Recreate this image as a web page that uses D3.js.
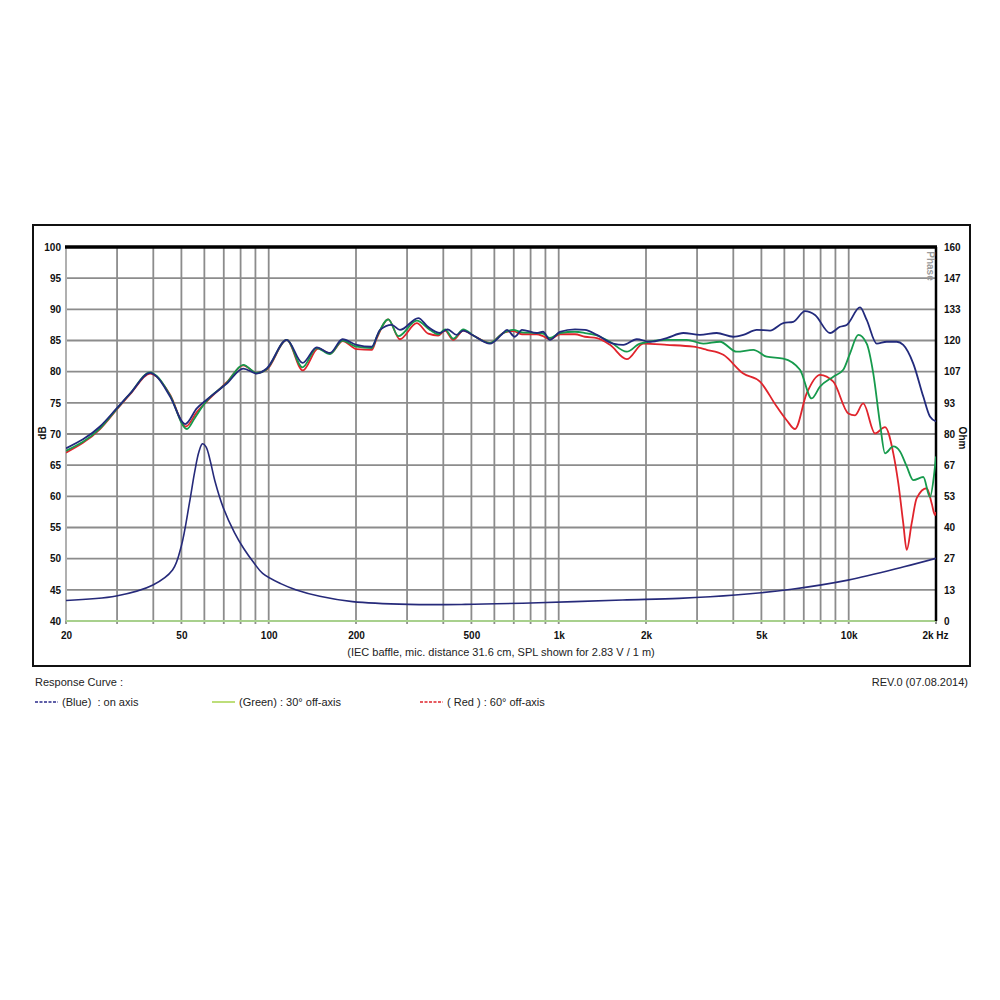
<!DOCTYPE html>
<html><head><meta charset="utf-8">
<script src="https://cdn.jsdelivr.net/npm/d3@7"></script>
<style>
html,body{margin:0;padding:0;background:#fff;}
svg{display:block;}
.tk{font-family:'Liberation Sans Narrow','Arial Narrow','Liberation Sans',Arial,sans-serif;font-weight:bold;font-size:10px;fill:#111;}
.tx{font-family:'Liberation Sans',Arial,sans-serif;font-size:11px;fill:#222;}
</style></head>
<body>
<svg id="c" width="1000" height="1000"></svg>
<script>
// ---- data ----
const blueFreq = [20,26.2,29.9,33.3,39,41.1,45.7,51.5,56.5,61.1,71.7,81.7,90.9,98.4,115.4,130.8,146.4,162.6,179.6,201,226.6,242,265.6,283.6,328,354,390,413.6,444.8,468.8,507.6,579.4,637.4,663.4,706,747,840,883,933,1010,1138,1232,1355,1542,1670,1858,2064,2358,2690,3070,3506,4000,4330,4818,5354,5948,6440,7068,7652,8620,9334,9840,10940,11536,12490,13520,14640,15420,16700,18080,19060,20000];
const blueDb = [67.7,71.2,74.1,76.5,79.8,79.2,76.0,71.6,74.1,75.5,78.1,80.5,79.7,80.5,85.1,81.4,83.9,83.0,85.2,84.3,84.0,86.7,87.5,86.7,88.6,87.2,86.2,86.8,85.9,86.6,85.8,84.5,86.0,86.7,85.6,86.7,86.2,86.4,85.1,86.4,86.8,86.7,85.9,84.5,84.3,85.2,84.8,85.4,86.2,85.9,86.2,85.6,85.9,86.7,86.6,87.8,88.0,89.7,89.1,86.2,87.2,87.5,90.3,88.3,84.5,84.8,84.8,84.3,81.3,76.0,72.8,72.0];

const greenFreq = [20,26.2,29.9,33.3,39,41.1,45.7,52.2,55.5,59.5,61.1,71.7,81.7,90.9,98.4,115.4,130.8,146.4,162.6,179.6,201,226.6,236,258.5,280,324,360,384,405.6,433,468.8,507.6,579.4,644,697,747,840,883,933,1010,1138,1232,1355,1503,1716,1906,2358,2762,3152,3598,4110,4688,5214,5948,6792,7454,7962,8852,9576,10100,10792,11536,12158,12820,13340,14250,15030,15850,16700,18080,19060,19700,20000];
const greenDb = [67.3,70.9,74.0,76.5,79.9,79.3,76.2,70.8,72.5,74.6,75.3,78.2,81.1,79.8,80.4,85.1,80.7,83.8,82.8,85.0,84.0,83.8,85.6,88.4,85.7,88.2,86.7,86.0,86.8,85.3,86.8,85.8,84.6,86.2,86.7,86.3,86.2,86.1,85.4,86.2,86.4,86.2,85.8,84.8,83.2,84.5,85.1,85.1,84.5,84.8,83.2,83.5,82.4,82.1,80.3,75.7,77.6,79.2,80.3,82.9,85.9,84.5,79.7,71.7,66.9,68.0,67.2,64.8,62.6,63.1,59.9,63.5,66.4];

const redFreq = [20,26.2,29.9,33.3,39,41.1,45.7,51.8,56.5,61.1,71.7,81.7,90.9,98.4,115.4,131,148,163,180,201,226.6,236,258.5,283,324,355,384,405.6,433,468.8,507.6,579.4,644,697,747,840,883,933,1010,1138,1232,1355,1503,1716,1958,2358,2912,3238,3696,4330,4944,5646,6112,6530,7162,7962,8852,9970,10514,11220,12330,13340,14250,14826,15420,15850,16490,17160,18578,19320,19843,20000];
const redDb = [67.0,70.8,73.9,76.4,79.7,79.2,76.3,71.2,73.5,75.2,78.3,81.0,79.8,80.3,85.1,80.2,83.7,82.9,84.9,83.6,83.5,85.4,88.4,85.2,87.8,86.1,85.8,86.6,85.1,86.6,85.8,84.6,86.2,86.5,86.0,86.0,85.7,85.2,86.0,86.0,85.6,85.4,84.3,82.0,84.5,84.3,84.0,83.5,82.7,79.7,78.4,74.4,72.2,70.8,76.5,79.5,78.4,73.3,73.0,74.9,70.1,71.1,66.9,62.1,55.7,51.4,55.7,59.7,61.3,58.9,57.0,57.5];

const impFreq = [20,29.8,39.9,46.6,49.9,53.3,55.5,57.5,59.1,60.8,63,65.2,69.7,76.2,82,89,95.3,110,124.6,150,194.6,304,476,850,1662,2600,4060,6360,9940,15500,20000];
const impOhm = [8.8,10.7,15.4,21.8,31.8,50.5,63.5,72.5,75.8,74.5,68.0,60.0,48.5,37.8,31.0,24.8,20.4,16.0,13.3,10.6,8.3,7.1,7.1,7.8,9.0,9.7,11.1,13.6,17.5,23.2,26.8];

const dbTicks = [40,45,50,55,60,65,70,75,80,85,90,95,100];
const ohmTickLabels = ["0","13","27","40","53","67","80","93","107","120","133","147","160"];
const freqTickVals = [20,50,100,200,500,1000,2000,5000,10000,20000];
const freqTickLabels = ["20","50","100","200","500","1k","2k","5k","10k","2k Hz"];

// ---- layout ----
const L=66,R=936,T=247,B=621;
const svg=d3.select("#c");
const x=d3.scaleLog().domain([20,20000]).range([L,R]);
const y=d3.scaleLinear().domain([40,100]).range([B,T]);
const yO=d3.scaleLinear().domain([0,160]).range([B,T]);

// outer frame
svg.append("rect").attr("x",33).attr("y",225).attr("width",937).attr("height",441)
  .attr("fill","#fff").attr("stroke","#111").attr("stroke-width",2);

// grid
const gridF=[];
[10,100,1000,10000].forEach(d=>{for(let k=1;k<10;k++){const f=d*k; if(f>=20&&f<=20000) gridF.push(f);}});
gridF.push(20000);
const g=svg.append("g");
g.selectAll(".vg").data(gridF).join("line")
  .attr("x1",d=>x(d)).attr("x2",d=>x(d)).attr("y1",T).attr("y2",B+3)
  .attr("stroke","#8c8c8c").attr("stroke-width",1.8);
g.selectAll(".hg").data(dbTicks).join("line")
  .attr("x1",L).attr("x2",R).attr("y1",d=>y(d)).attr("y2",d=>y(d))
  .attr("stroke","#8c8c8c").attr("stroke-width",1.8);
// borders
g.append("line").attr("x1",L).attr("x2",L).attr("y1",T).attr("y2",B).attr("stroke","#b0b0b0").attr("stroke-width",2);
g.append("line").attr("x1",L).attr("x2",R).attr("y1",B).attr("y2",B).attr("stroke","#a8d08d").attr("stroke-width",2);
g.append("line").attr("x1",L-1).attr("x2",R+1).attr("y1",T).attr("y2",T).attr("stroke","#000").attr("stroke-width",3.5);
g.append("line").attr("x1",R).attr("x2",R).attr("y1",T).attr("y2",B).attr("stroke","#000").attr("stroke-width",2.5);

// axes labels
const axL=d3.axisLeft(y).tickValues(dbTicks).tickSize(0).tickPadding(5).tickFormat(d3.format("d"));
const aL=svg.append("g").attr("transform",`translate(${L},0)`).call(axL);
const axR=d3.axisRight(yO).tickValues(d3.range(13).map(i=>i*160/12)).tickSize(0).tickPadding(8).tickFormat((d,i)=>ohmTickLabels[i]);
const aR=svg.append("g").attr("transform",`translate(${R},0)`).call(axR);
const axB=d3.axisBottom(x).tickValues(freqTickVals).tickSize(0).tickPadding(11).tickFormat((d,i)=>freqTickLabels[i]);
const aB=svg.append("g").attr("transform",`translate(0,${B})`).call(axB);
[aL,aR,aB].forEach(a=>{a.select(".domain").remove(); a.selectAll("text").attr("class","tk").attr("fill","#111");});
aB.selectAll("text").filter((d,i)=>i===freqTickLabels.length-1).attr("text-anchor","end").attr("dx","12");

svg.append("text").attr("class","tk").attr("font-size","11px").attr("transform","translate(46,433) rotate(-90)").attr("text-anchor","middle").text("dB");
svg.append("text").attr("class","tk").attr("font-size","11px").attr("transform","translate(959,438) rotate(90)").attr("text-anchor","middle").text("Ohm");
svg.append("text").attr("class","tk").style("fill","#9a9a9a").attr("font-weight","normal").attr("font-size","11px").attr("transform","translate(927,266) rotate(90)").attr("text-anchor","middle").text("Phase");

// curves
svg.append("clipPath").attr("id","pc").append("rect").attr("x",L).attr("y",T).attr("width",R-L).attr("height",B-T);
const cg=svg.append("g").attr("clip-path","url(#pc)");
function draw(fr,vals,scale,color,w,curve){
  const ln=d3.line().x(d=>x(d[0])).y(d=>scale(d[1])).curve(curve);
  cg.append("path").datum(fr.map((f,i)=>[f,vals[i]])).attr("d",ln)
    .attr("fill","none").attr("stroke",color).attr("stroke-width",w).attr("stroke-linejoin","round");
}
draw(impFreq,impOhm,yO,"#262a7a",1.6,d3.curveCatmullRom.alpha(0.5));
draw(redFreq,redDb,y,"#e0242c",1.8,d3.curveMonotoneX);
draw(greenFreq,greenDb,y,"#169a4c",1.8,d3.curveMonotoneX);
draw(blueFreq,blueDb,y,"#222a7c",1.8,d3.curveMonotoneX);

// caption and legend
svg.append("text").attr("class","tx").attr("x",501).attr("y",656).attr("text-anchor","middle")
  .text("(IEC baffle, mic. distance 31.6 cm, SPL shown for 2.83 V / 1 m)");
svg.append("text").attr("class","tx").attr("x",35).attr("y",686).text("Response Curve :");
svg.append("text").attr("class","tx").attr("x",968).attr("y",686).attr("text-anchor","end").attr("font-size","10px").text("REV.0 (07.08.2014)");
const leg=[
  {x:35,color:"#2a2a8a",dash:"3,1.5",label:"(Blue)  : on axis"},
  {x:212,color:"#9acd32",dash:null,label:"(Green) : 30° off-axis"},
  {x:420,color:"#e0242c",dash:"3,1.5",label:"( Red ) : 60° off-axis"}
];
leg.forEach(l=>{
  const ln=svg.append("line").attr("x1",l.x).attr("x2",l.x+23).attr("y1",702).attr("y2",702).attr("stroke",l.color).attr("stroke-width",1.3);
  if(l.dash) ln.attr("stroke-dasharray",l.dash);
  svg.append("text").attr("class","tx").attr("x",l.x+27).attr("y",706).style("white-space","pre").text(l.label);
});
</script>
</body></html>
